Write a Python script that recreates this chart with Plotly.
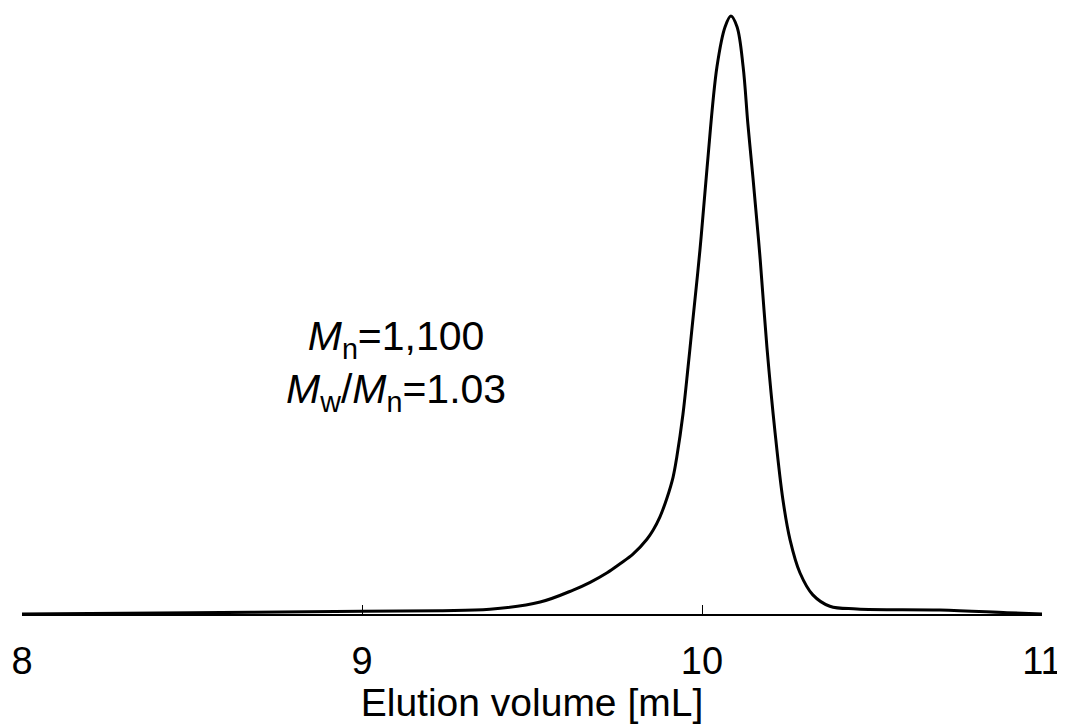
import plotly.graph_objects as go

# Elution volume [mL] and normalized detector response
elution_ml = [8.0, 8.5, 9.0, 9.229, 9.376, 9.524, 9.621, 9.671, 9.721, 9.759,
              9.797, 9.838, 9.856, 9.876, 9.897, 9.915, 9.926, 9.944, 9.959,
              9.971, 9.994, 10.015, 10.044, 10.068, 10.085, 10.103, 10.121,
              10.135, 10.150, 10.171, 10.191, 10.215, 10.238, 10.259, 10.288,
              10.326, 10.376, 10.456, 10.70, 10.897, 11.0]
response = [0.0, 0.2, 0.45, 0.55, 0.79, 2.0, 4.0, 5.3, 6.9, 8.4,
            10.0, 12.5, 14.0, 16.2, 19.4, 22.9, 26.3, 33.4, 41.3,
            48.0, 60.9, 74.7, 91.5, 98.2, 100.0, 98.2, 91.5,
            81.9, 72.9, 59.4, 44.6, 30.3, 19.1, 12.4, 6.9,
            3.2, 1.3, 0.85, 0.67, 0.22, 0.0]

tick_vals = [8, 9, 10, 11]
tick_text = ["8", "9", "10", "11"]
annot_text = "<i>M</i><sub>n</sub>=1,100<br><i>M</i><sub>w</sub>/<i>M</i><sub>n</sub>=1.03"

FONT = "Liberation Sans, Arial, sans-serif"

fig = go.Figure()
fig.add_trace(go.Scatter(
    x=elution_ml, y=response, mode="lines",
    line=dict(color="black", width=3, shape="spline", smoothing=1.0),
    hoverinfo="skip", showlegend=False,
))

fig.add_annotation(
    x=9.1, y=41.5, xref="x", yref="y", text=annot_text, showarrow=False,
    font=dict(family=FONT, size=41, color="black"), align="center",
)

# page body has an 8px default margin, so the figure is sized to fit the window
fig.update_layout(
    width=1057, height=716,
    margin=dict(l=14, r=23, t=2, b=110, autoexpand=False),
    paper_bgcolor="white", plot_bgcolor="white",
    font=dict(family=FONT, size=38, color="black"),
    xaxis=dict(
        range=[8, 11], tickvals=tick_vals, ticktext=tick_text,
        showline=True, linecolor="black", linewidth=1.5,
        ticks="inside", ticklen=9, tickwidth=1.3, tickcolor="black",
        showgrid=False, zeroline=False, automargin=False,
        ticklabelstandoff=13,
        tickfont=dict(family=FONT, size=38, color="black"),
        title=dict(text="Elution volume [mL]", standoff=0,
                   font=dict(family=FONT, size=39, color="black")),
    ),
    yaxis=dict(range=[0, 101.0], visible=False, showgrid=False, zeroline=False,
               automargin=False),
)

fig.write_html("out.html")
